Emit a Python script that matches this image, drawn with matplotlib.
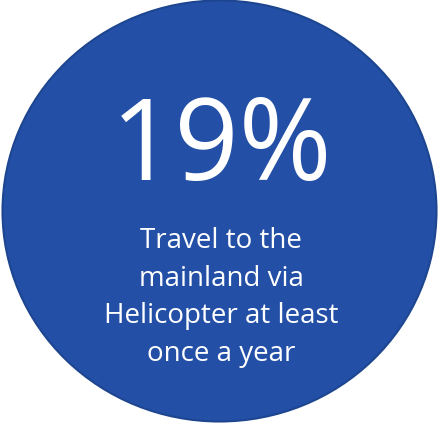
import matplotlib.pyplot as plt
from matplotlib.patches import Ellipse

pct = 19
caption = ["Travel to the", "mainland via", "Helicopter at least", "once a year"]

fill_col = '#2350A6'
edge_col = '#1D4590'

fig = plt.figure(figsize=(4.39, 4.24), dpi=100)
ax = fig.add_axes([0, 0, 1, 1])
ax.set_xlim(0, 439)
ax.set_ylim(424, 0)
ax.axis('off')

circle = Ellipse((219.5, 211), 434, 421, facecolor=fill_col, edgecolor=edge_col, linewidth=1.5)
ax.add_patch(circle)

ax.text(222, 150, f'{pct}%', color='white', fontsize=81, family='Open Sans',
        ha='center', va='center')

y0 = 241
for i, line in enumerate(caption):
    ax.text(221, y0 + i * 37.5, line, color='white', fontsize=20, family='Open Sans',
            ha='center', va='center')

fig.savefig('out.png', dpi=100)
